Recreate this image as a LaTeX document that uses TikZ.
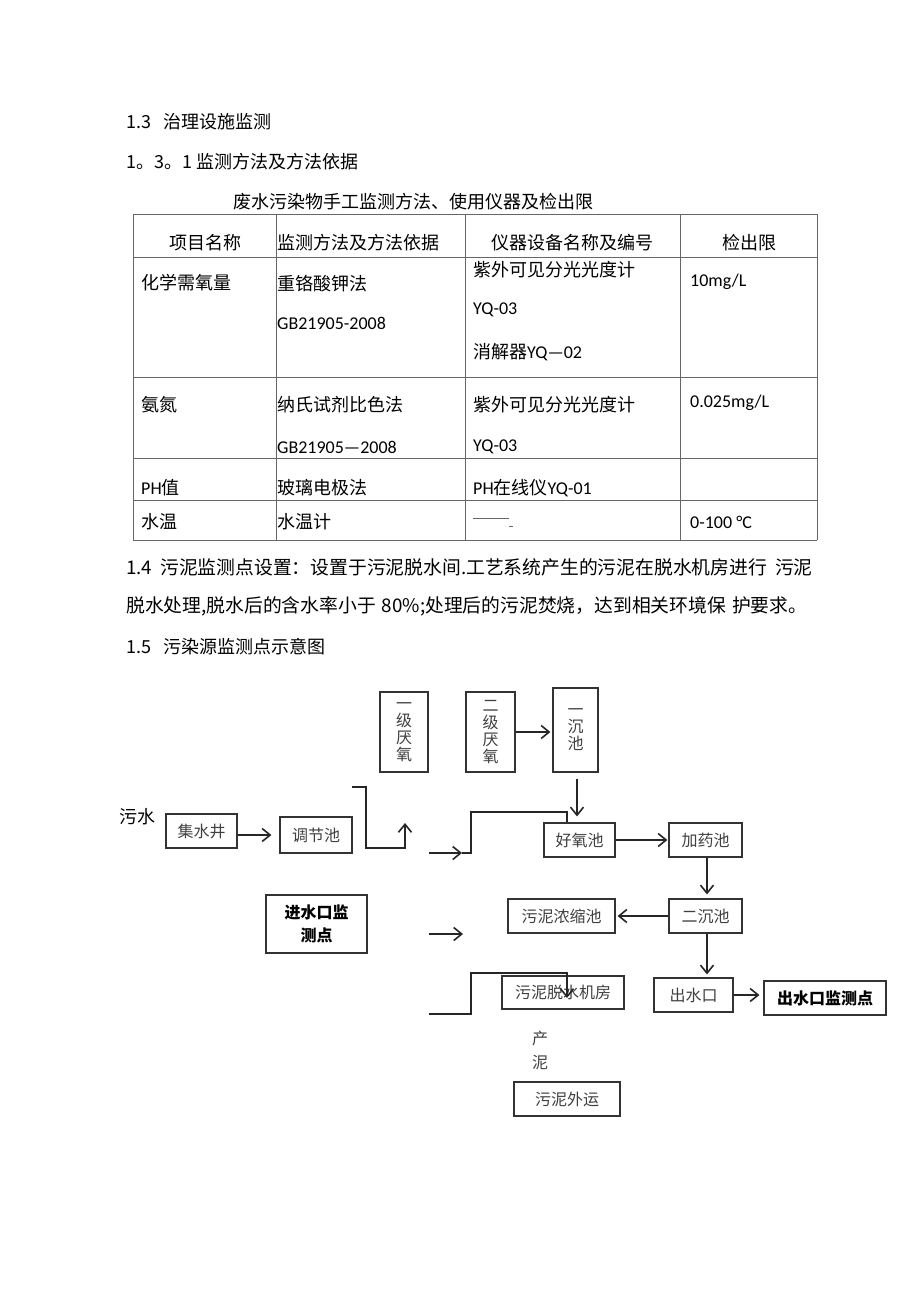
\documentclass[tikz,border=0pt]{standalone}
\usepackage{fontspec}
\usetikzlibrary{arrows.meta,positioning}
\newfontfamily\cjk{Noto Sans CJK SC}
\newfontfamily\lat{Carlito}
\newcommand\entext[1]{{\lat\fontsize{18}{20}\selectfont #1}}

\tikzset{
  box/.style={draw=black!80, line width=1.2pt, inner sep=0pt, align=center,
    font=\cjk\fontsize{16}{17}\selectfont, text=black!75},
  boldbox/.style={box, text=black, font=\cjk\bfseries\fontsize{16}{23}\selectfont},
  sz/.style 2 args={minimum width=#1pt, minimum height=#2pt},
  flow/.style={draw=black!85, line width=1.6pt, -{Straight Barb[length=8pt,width=13pt]}},
  plain/.style={draw=black!85, line width=1.6pt},
  head/.style={anchor=west, inner sep=0pt, font=\cjk\fontsize{18}{22}\selectfont},
  para/.style={head, font=\cjk\fontsize{18.8}{22}\selectfont},
  cell/.style={anchor=west, inner sep=0pt, font=\cjk\fontsize{18}{20}\selectfont},
  gridline/.style={draw=black!60, line width=0.9pt}
}

\begin{document}
\begin{tikzpicture}[x=1pt,y=-1pt]
  \fill[white] (0,0) rectangle (920,1302);
  \useasboundingbox (0,0) rectangle (920,1302);

  % headings
  \node[head] (h13) at (126,122) {1.3\hspace{12pt}治理设施监测};
  \node[head] (h131) at (126,162) {1。3。1\hspace{4pt}监测方法及方法依据};
  \node[head] (cap) at (233,202) {废水污染物手工监测方法、使用仪器及检出限};

  % table grid
  \foreach \y in {214,257,377,458,500,540}
    \draw[gridline] (133,\y) -- (817,\y);
  \foreach \x in {133,276,465,680,817}
    \draw[gridline] (\x,214) -- (\x,540);

  % table header
  \node[cell, anchor=center] (th1) at (205,243) {项目名称};
  \node[cell] (th2) at (277,243) {监测方法及方法依据};
  \node[cell, anchor=center] (th3) at (572,243) {仪器设备名称及编号};
  \node[cell, anchor=center] (th4) at (749,243) {检出限};

  % row 1
  \node[cell] (r1a) at (141,283) {化学需氧量};
  \node[cell] (r1b) at (277,284) {重铬酸钾法};
  \node[cell] (r1c) at (277,323) {\entext{GB21905-2008}};
  \node[cell] (r1d) at (473,270) {紫外可见分光光度计};
  \node[cell] (r1e) at (473,310) {\entext{YQ-03}};
  \node[cell] (r1f) at (473,352) {消解器\entext{YQ—02}};
  \node[cell] (r1g) at (690,282) {\entext{10mg/L}};

  % row 2
  \node[cell] (r2a) at (141,405) {氨氮};
  \node[cell] (r2b) at (277,405) {纳氏试剂比色法};
  \node[cell] (r2c) at (277,447) {\entext{GB21905—2008}};
  \node[cell] (r2d) at (473,405) {紫外可见分光光度计};
  \node[cell] (r2e) at (473,447) {\entext{YQ-03}};
  \node[cell] (r2g) at (690,403) {\entext{0.025mg/L}};

  % row 3
  \node[cell] (r3a) at (141,488) {\entext{PH}值};
  \node[cell] (r3b) at (277,488) {玻璃电极法};
  \node[cell] (r3d) at (473,488) {\entext{PH}在线仪\entext{YQ-01}};

  % row 4
  \node[cell] (r4a) at (141,522) {水温};
  \node[cell] (r4b) at (277,522) {水温计};
  \node[cell, text=black!60] (r4d) at (473,522) {\rule[5pt]{36pt}{0.8pt}\rule[-3pt]{4pt}{0.6pt}};
  \node[cell] (r4g) at (690,522) {\entext{0-100 °C}};

  % paragraph
  \node[para] (p1) at (126,567) {1.4\hspace{8pt}污泥监测点设置：设置于污泥脱水间.工艺系统产生的污泥在脱水机房进行\hspace{8pt}污泥};
  \node[para] (p2) at (126,606) {脱水处理,脱水后的含水率小于\hspace{6pt}80\%;处理后的污泥焚烧，达到相关环境保\hspace{6pt}护要求。};
  \node[head] (p3) at (126,647) {1.5\hspace{12pt}污染源监测点示意图};

  % flow chart boxes
  \node[head, anchor=center] (wushui) at (137,817) {污水};
  \node[box, sz={71}{34}] (jsj) at (201.5,831) {集水井};
  \node[box, sz={72}{36}] (tjc) at (316,835) {调节池};
  \node[box, sz={48}{80}] (yjyy) at (404,732) {一\\级\\厌\\氧};
  \node[box, sz={49}{80}] (ejyy) at (490.5,732) {二\\级\\厌\\氧};
  \node[box, sz={45}{84}] (ycc) at (575.5,730) {一\\沉\\池};
  \node[box, sz={71}{34}] (hyc) at (579.5,840) {好氧池};
  \node[box, sz={73}{34}] (jyc) at (705.5,840) {加药池};
  \node[box, sz={73}{34}] (ecc) at (705.5,916) {二沉池};
  \node[box, sz={107}{34}] (wnns) at (561.5,916) {污泥浓缩池};
  \node[boldbox, sz={101}{58}] (jskjc) at (316.5,924) {进水口监\\测点};
  \node[box, sz={122}{33}] (wntsjf) at (563,992.5) {污泥脱水机房};
  \node[box, sz={79}{34}] (csk) at (693.5,995) {出水口};
  \node[boldbox, sz={122}{34}] (cskjc) at (825,998) {出水口监测点};
  \node[box, sz={106}{34}] (wnwy) at (567,1099) {污泥外运};
  \node[box, draw=none, font=\cjk\fontsize{16}{24}\selectfont] (channi) at (540,1050) {产\\泥};

  % free line ends
  \coordinate (a1) at (352,787);
  \coordinate (a2) at (366,848);
  \coordinate (a3) at (405,823);
  \coordinate (b0) at (429,853);
  \coordinate (b1) at (462,853);
  \coordinate (b2) at (471,812);
  \coordinate (b3) at ([xshift=-12.5pt]hyc.north);
  \coordinate (d0) at (429,934);
  \coordinate (d1) at (463,934);
  \coordinate (e0) at (429,1014);
  \coordinate (e1) at (471,973);
  \coordinate (e2) at (567,998);

  % connectors
  \draw[flow, shorten >=8pt] (jsj.east |- tjc.west) -- (tjc.west);
  \draw[flow] (a1) -- (a1 -| a2) -- (a2) -- (a2 -| a3) -- (a3);
  \draw[flow] (b0) -- (b1);
  \draw[plain] (b1) -- (b1 -| b2) -- (b2) -- (b2 -| b3) -- (b3);
  \draw[flow, shorten >=2pt] (ejyy.east) -- (ejyy.east -| ycc.west);
  \draw[flow, shorten <=6pt, shorten >=6pt] ([xshift=1.5pt]ycc.south) -- ([xshift=1.5pt]ycc.south |- hyc.north);
  \draw[flow, shorten >=1pt] (hyc.east) -- (jyc.west);
  \draw[flow, shorten >=4pt] ([xshift=1.5pt]jyc.south) -- ([xshift=1.5pt]ecc.north);
  \draw[flow, shorten >=2pt] (ecc.west) -- (wnns.east);
  \draw[flow] (d0) -- (d1);
  \draw[flow, shorten >=3pt] ([xshift=13.5pt]csk.north |- ecc.south) -- ([xshift=13.5pt]csk.north);
  \draw[flow, shorten >=4pt] (csk.east) -- (csk.east -| cskjc.west);
  \draw[flow] (e0) -- (e0 -| e1) -- (e1) -- (e1 -| e2) -- (e2);
\end{tikzpicture}
\end{document}
